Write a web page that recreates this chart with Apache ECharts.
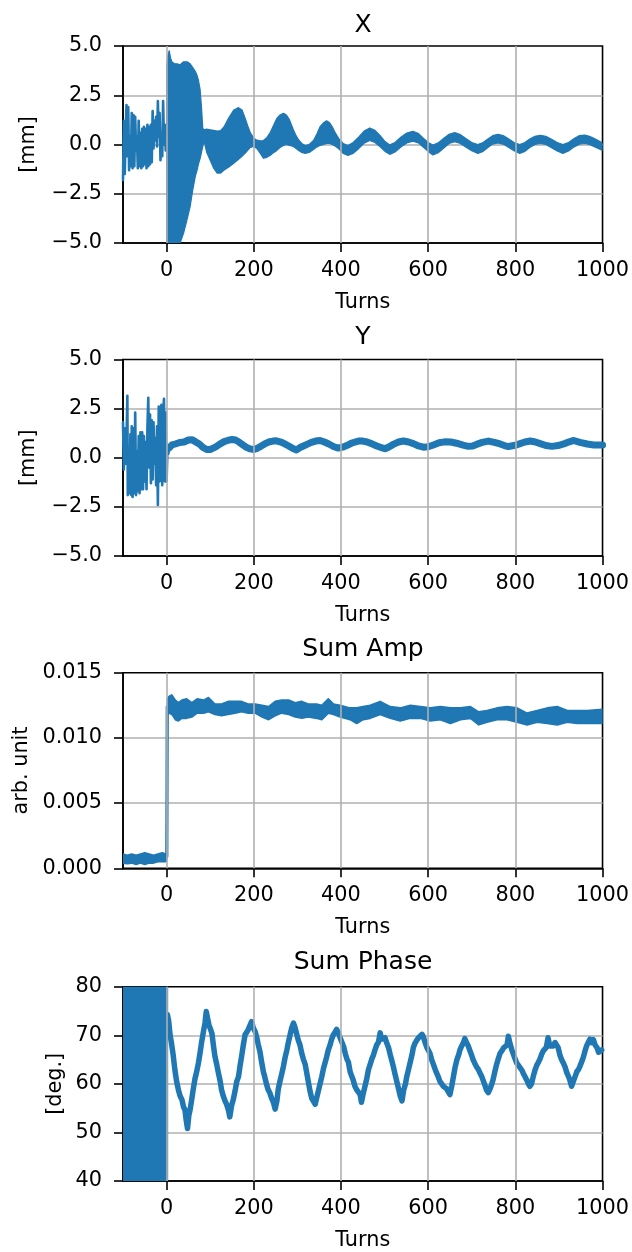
<!DOCTYPE html>
<html><head><meta charset="utf-8">
<script src="https://cdn.jsdelivr.net/npm/echarts@6/dist/echarts.min.js"></script>
<style>html,body{margin:0;padding:0;background:#fff}#c{width:632px;height:1252px}</style>
</head><body><div id="c"></div>
<script>
// ---- data ----
const turnTicks = [0, 200, 400, 600, 800, 1000];
const panelTitles = ['X', 'Y', 'Sum Amp', 'Sum Phase'];
const yNames = ['[mm]', '[mm]', 'arb. unit', '[deg.]'];

// X: pre-trigger trace [turn, mm]
const xPre = [[-100,-1.8],[-98,1.2],[-96,-1.5],[-94,0.5],[-92,2.0],[-90,-0.6],[-88,1.9],[-86,-1.3],[-84,0.4],[-82,-1.1],
[-80,1.6],[-78,-1.2],[-76,1.5],[-74,-1.1],[-72,1.4],[-70,-0.3],[-68,0.4],[-66,-1.2],[-64,1.2],[-62,-1.1],
[-60,0.6],[-58,-1.2],[-56,0.8],[-54,-1.1],[-52,0.9],[-50,-1.0],[-48,0.8],[-46,-1.2],[-44,1.0],[-42,-1.1],
[-40,0.9],[-38,-1.0],[-36,1.0],[-34,-0.9],[-32,1.7],[-30,-0.2],[-28,1.2],[-26,0.2],[-24,1.4],[-22,-0.1],
[-20,2.2],[-18,0.4],[-16,1.6],[-14,-0.8],[-12,0.6],[-10,-0.6],[-8,2.2],[-6,0.0],[-4,1.0],[-2,-0.3],[0,0.5]];
// X: envelope of the dense trace after injection [turn, low, high]
const xBand = [[0,-5.5,3.95],[3,-5.5,4.5],[6,-5.5,4.76],[9,-5.5,4.4],[12,-5.5,4.2],[18,-5.5,4.1],[24,-5.5,4.1],[31,-5.0,4.05],[39,-4.5,4.2],[47,-3.8,4.2],
[54,-3.15,4.1],[60,-2.3,3.9],[66,-1.6,3.7],[70,-1.3,3.5],[73,-1.0,3.27],[77,-0.7,2.77],[80,-0.4,1.9],[83,-0.1,0.82],[86,0.2,0.75],[92,-0.4,0.78],
[100,-0.8,0.75],[108,-1.2,0.72],[116,-1.45,0.68],[124,-1.45,0.7],[132,-1.3,0.9],[142,-1.15,1.33],[154,-0.95,1.75],[165,-0.75,1.87],[173,-0.6,1.75],[180,-0.45,1.35],
[186,-0.3,0.95],[192,-0.15,0.6],[200,-0.1,0.32],[207,-0.2,0.22],[215,-0.45,0.18],[222,-0.7,0.2],[230,-0.65,0.35],[238,-0.55,0.62],[246,-0.4,1.0],[253,-0.3,1.33],
[260,-0.15,1.5],[268,-0.05,1.58],[275,0.0,1.5],[282,-0.05,1.25],[291,-0.1,0.74],[297,-0.2,0.45],[303,-0.3,0.23],[310,-0.4,0.05],[318,-0.45,-0.05],[327,-0.4,0.0],
[337,-0.25,0.2],[345,-0.12,0.55],[352,-0.05,0.9],[360,0.0,1.1],[367,0.05,1.2],[374,0.05,1.1],[380,0.0,0.9],[388,-0.1,0.55],[395,-0.22,0.3],[405,-0.45,0.05],
[416,-0.55,-0.05],[428,-0.45,0.1],[441,-0.2,0.38],[454,0.08,0.7],[466,0.2,0.84],[478,0.1,0.72],[490,-0.12,0.45],[501,-0.35,0.15],[512,-0.5,-0.02],[524,-0.38,0.1],
[538,-0.12,0.38],[551,0.08,0.58],[565,0.17,0.67],[578,0.08,0.55],[590,-0.15,0.3],[600,-0.35,0.1],[611,-0.53,-0.03],[623,-0.42,0.08],[636,-0.18,0.32],[648,0.05,0.52],
[661,0.14,0.6],[674,0.05,0.5],[688,-0.15,0.28],[700,-0.32,0.1],[714,-0.45,0.0],[726,-0.35,0.1],[737,-0.15,0.28],[748,0.02,0.45],[760,0.08,0.52],[772,0.02,0.45],
[785,-0.15,0.28],[797,-0.32,0.1],[810,-0.45,0.0],[822,-0.35,0.1],[833,-0.15,0.28],[845,0.0,0.42],[857,0.05,0.47],[870,0.0,0.42],[882,-0.15,0.28],[896,-0.33,0.1],
[909,-0.45,0.0],[922,-0.33,0.1],[935,-0.12,0.3],[947,0.02,0.45],[959,0.05,0.48],[970,0.0,0.42],[980,-0.1,0.32],[990,-0.2,0.2],[1000,-0.3,0.08]];

// Y: pre-trigger trace and trace after injection [turn, mm]
const yPre = [[-100,1.8],[-98,-0.6],[-96,1.5],[-94,-0.3],[-92,0.8],[-90,3.15],[-89,-1.9],[-87,0.5],[-85,-1.8],[-83,1.2],[-81,-1.9],
[-80,1.6],[-78,-2.0],[-76,1.5],[-74,-1.8],[-72,2.3],[-70,-1.9],[-68,0.3],[-66,-1.7],[-64,1.1],[-62,-1.8],
[-60,1.3],[-58,-1.6],[-56,1.3],[-54,-1.6],[-52,1.1],[-50,-1.2],[-48,0.8],[-46,-1.6],[-44,1.5],[-42,3.05],
[-40,-0.5],[-38,2.2],[-36,-1.3],[-34,1.9],[-32,-1.1],[-30,1.8],[-28,-0.3],[-26,1.0],[-24,-1.4],[-22,1.6],
[-20,-2.4],[-18,2.6],[-16,-1.2],[-14,1.0],[-12,2.7],[-10,-1.4],[-8,2.2],[-6,3.0],[-4,-1.2],[-2,2.3],[0,-1.2],[2,0.5],[4,0.2],[6,0.5]];
const yPost = [[6,0.5],[12,0.65],[20,0.7],[30,0.78],[40,0.8],[50,0.9],[58,0.92],[66,0.82],[75,0.7],[84,0.52],[92,0.42],[100,0.42],
[108,0.5],[116,0.6],[124,0.72],[132,0.82],[140,0.88],[150,0.93],[158,0.9],[166,0.8],[175,0.66],[184,0.52],[192,0.45],[200,0.42],
[208,0.48],[216,0.58],[225,0.7],[234,0.8],[244,0.85],[252,0.86],[262,0.8],[270,0.72],[280,0.6],[290,0.47],[298,0.4],[306,0.52],
[314,0.6],[322,0.68],[332,0.78],[342,0.85],[352,0.88],[362,0.8],[372,0.7],[384,0.56],[394,0.49],[404,0.54],[413,0.62],[425,0.75],
[440,0.85],[450,0.85],[460,0.8],[470,0.72],[482,0.6],[492,0.52],[501,0.46],[510,0.55],[520,0.68],[532,0.8],[543,0.85],[555,0.8],
[566,0.72],[578,0.6],[589,0.54],[600,0.56],[612,0.65],[625,0.76],[638,0.81],[652,0.8],[665,0.74],[680,0.64],[692,0.58],[702,0.6],
[711,0.68],[724,0.78],[738,0.85],[752,0.78],[765,0.7],[775,0.62],[784,0.57],[797,0.62],[811,0.72],[822,0.8],[834,0.85],[846,0.8],
[857,0.72],[870,0.62],[884,0.58],[898,0.62],[911,0.7],[922,0.8],[934,0.88],[948,0.78],[965,0.7],[980,0.65],[1000,0.65]];

// Sum Amp: envelope [turn, low, high] and the step at injection [turn, value]
const ampBand = [[-100,0.0004,0.0011],[-90,0.00035,0.0010],[-80,0.0004,0.0011],[-70,0.0003,0.0010],[-60,0.0004,0.0011],[-50,0.0003,0.0012],
[-40,0.0004,0.0011],[-30,0.0004,0.0010],[-20,0.0005,0.0011],[-10,0.0005,0.0012],[-2,0.0005,0.0011],[0,0.0006,0.0012],
[2,0.0118,0.0130],[6,0.0119,0.0132],[12,0.0118,0.0133],[20,0.0114,0.0129],[27,0.0113,0.0127],[35,0.0115,0.0129],[46,0.0115,0.0130],[58,0.0116,0.0127],
[70,0.0119,0.0130],[85,0.0119,0.0129],[96,0.0120,0.0131],[111,0.0118,0.0126],[126,0.0117,0.0126],[141,0.0118,0.0128],[157,0.0119,0.0128],[172,0.0120,0.0128],[187,0.0119,0.0126],[203,0.0119,0.0126],
[219,0.0116,0.0125],[234,0.0114,0.0124],[249,0.0117,0.0128],[264,0.0119,0.0129],[280,0.0118,0.0129],[295,0.0116,0.0127],[310,0.0115,0.0128],[325,0.0116,0.0126],[344,0.0115,0.0126],[356,0.0114,0.0125],
[371,0.0119,0.0130],[383,0.0118,0.0126],[398,0.0116,0.0125],[421,0.0114,0.0123],[436,0.0111,0.0123],[451,0.0114,0.0124],[467,0.0115,0.0125],[490,0.0118,0.0128],[513,0.0115,0.0124],[536,0.0113,0.0123],
[559,0.0115,0.0125],[582,0.0115,0.0124],[605,0.0113,0.0123],[628,0.0114,0.0124],[651,0.0111,0.0123],[674,0.0114,0.0123],[697,0.0115,0.0124],[716,0.0110,0.0120],[735,0.0112,0.0121],[758,0.0114,0.0123],
[781,0.0114,0.0124],[804,0.0112,0.0123],[827,0.0110,0.0119],[850,0.0112,0.0121],[873,0.0111,0.0123],[896,0.0110,0.0124],[919,0.0112,0.0121],[942,0.0111,0.0121],[965,0.0111,0.0121],[1000,0.0111,0.0122]];
const ampStep = [[0.5,0.0009],[1.5,0.0124]];

// Sum Phase: pre-trigger fills the whole range; trace after injection [turn, deg]
const phasePreBand = [[-100,30,90],[2.5,30,90]];
const phasePost = [[2,74.2],[5,72.8],[8,70.0],[11,68.5],[15,66],[19,62.9],[23,60.5],[27,58.8],[31,57.5],[35,56.8],[39,55.2],[42,54.7],[45,52.5],[48,50.8],[51,53.5],[54,54.7],
[58,57],[61,58.8],[65,61],[69,62.5],[73,64.3],[77,66.5],[80,68.4],[84,70.5],[88,72.5],[91,74.9],[94,73.5],[97,72.2],[100,72.5],[104,70.4],[108,67.5],[111,65.6],
[115,64],[119,62.2],[123,60.5],[126,58.8],[130,57.5],[134,56.5],[138,55.7],[142,54.5],[145,53.2],[149,55.5],[153,56.8],[157,58.5],[161,60.5],[165,61.5],[169,64],[172,65.6],
[176,68],[180,70.1],[184,70.5],[187,71.1],[191,71.5],[195,72.8],[199,71.5],[203,70.8],[207,69.5],[210,68.2],[214,66.7],[218,64.5],[222,62.5],[225,61.5],[229,60],[233,58.8],
[237,58.1],[241,57],[245,56.2],[249,54.8],[253,56.5],[256,58.8],[260,60.5],[264,62],[268,63.6],[272,65.5],[276,67],[279,68.4],[283,70],[287,71.5],[291,72.5],[294,71.8],
[298,70.4],[302,69],[306,68],[310,66.3],[314,65],[318,64],[321,62.5],[325,60.5],[329,58.5],[333,57],[337,56.4],[341,55.8],[344,57],[348,58.5],[352,60],[356,61.5],
[360,63.2],[364,64.5],[367,65.5],[371,67],[375,68],[378,69],[382,70],[386,70.6],[390,71.2],[394,70.5],[398,69.5],[401,69.2],[406,67.7],[410,66.2],[414,65],[417,64.5],
[421,62.5],[425,61.5],[428,60.8],[432,59.5],[436,58.8],[440,58.5],[444,57.8],[447,56.2],[451,58],[455,59.5],[459,61],[463,62.9],[467,64],[471,65.2],[474,65.8],[478,67],
[482,68],[486,68.6],[490,70.5],[493,69.2],[497,68.8],[501,69.5],[505,68.4],[509,67.5],[513,66],[516,65],[520,63.6],[524,62],[528,60.5],[532,59],[536,57.5],[540,56.5],
[544,58.8],[548,60],[551,61.5],[555,63],[559,64.5],[563,66],[566,67.5],[570,68.4],[574,69],[578,69.5],[582,69.8],[586,70.2],[589,69.7],[593,68.5],[597,67.5],[600,67],
[604,66.3],[608,65],[612,64],[616,63],[619,62.3],[623,61.5],[627,60.5],[631,60],[635,59.5],[638,59.2],[642,59],[646,58.4],[650,57.8],[654,59.5],[658,61.5],[662,63.5],
[666,65],[670,66],[673,67],[677,67.8],[681,68.5],[684,69.3],[688,68.5],[692,67.8],[696,66.8],[700,65.8],[703,65],[707,64.2],[711,63.5],[715,63],[719,62.2],[723,61.5],
[727,60.5],[731,59.5],[734,58.7],[738,58.2],[742,59],[746,60],[749,60.9],[753,62.5],[757,64],[761,65.2],[765,66.3],[769,66.8],[773,67.4],[777,67.8],[781,68],[784,69.8],
[788,68.2],[792,67],[796,66],[800,65],[803,64.3],[807,63.8],[811,63.5],[815,62.8],[818,62.2],[822,61.5],[826,60.8],[830,60],[833,59.5],[837,60],[841,61.5],[845,62.8],
[849,63.8],[852,64.3],[856,65],[860,66],[864,66.8],[868,67],[871,67.5],[875,69.5],[879,67.8],[883,68],[887,67.8],[891,68.5],[894,68.4],[898,67.5],[902,66],[906,65],
[910,64.3],[914,63.5],[918,62.3],[922,61.5],[925,60.8],[929,59.5],[933,60.5],[937,61.5],[941,62.5],[945,63],[948,63.6],[952,64.5],[956,65.5],[960,66.8],[963,67.7],[967,68.5],
[971,69.2],[975,68.5],[979,69.1],[983,68],[987,67.5],[991,66.5],[994,66.3],[998,67]];

// ---- chart ----
const FONT = 'DejaVu Sans';
const C = '#1f77b4';
const FS = 20.8;
const gridTops = [46, 359.5, 672.7, 986.7];
const gridHeights = [197, 196.5, 195.6, 195];
const titleTops = [13, 325, 636.7, 950];
const yCfg = [
  {min:-5, max:5, interval:2.5, fmt:v=>v.toFixed(1).replace('-', '\u2212'), gap:84},
  {min:-5, max:5, interval:2.5, fmt:v=>v.toFixed(1).replace('-', '\u2212'), gap:84},
  {min:0, max:0.015, interval:0.005, fmt:v=>v.toFixed(3), gap:91},
  {min:40, max:80, interval:10, fmt:v=>String(Math.round(v)), gap:57}
];
const txt = {fontFamily: FONT, fontSize: FS, color: '#000'};

const grids = [], xAxes = [], yAxes = [], series = [], graphics = [];
for (let i = 0; i < 4; i++) {
  grids.push({left:123, width:480, top:gridTops[i], height:gridHeights[i], show:true, borderColor:'#000', borderWidth:1.6, backgroundColor:'rgba(0,0,0,0)'});
  xAxes.push({gridIndex:i, type:'value', min:-100, max:1000,
    name:'Turns', nameLocation:'middle', nameGap:49, nameMoveOverlap:false, nameTextStyle:txt,
    axisLine:{show:true, onZero:false, lineStyle:{color:'#000', width:1.6}},
    axisTick:{show:true, length:9, customValues:turnTicks, lineStyle:{color:'#000', width:1.6}},
    axisLabel:Object.assign({margin:17, customValues:turnTicks, formatter:v=>String(v)}, txt),
    splitLine:{show:false}});
  const c = yCfg[i];
  yAxes.push({gridIndex:i, type:'value', min:c.min, max:c.max, interval:c.interval,
    name:yNames[i], nameLocation:'middle', nameGap:c.gap, nameMoveOverlap:false, nameTextStyle:txt,
    axisLine:{show:true, onZero:false, lineStyle:{color:'#000', width:1.6}},
    axisTick:{show:true, length:9, lineStyle:{color:'#000', width:1.6}},
    axisLabel:Object.assign({margin:21, formatter:c.fmt}, txt),
    splitLine:{show:true, showMinLine:false, showMaxLine:false, lineStyle:{color:'#b0b0b0', width:1.6}}});
  // vertical grid lines at the turn ticks (below data)
  series.push({type:'line', xAxisIndex:i, yAxisIndex:i, data:[], z:1, silent:true,
    markLine:{silent:true, symbol:['none','none'], label:{show:false}, animation:false,
      lineStyle:{color:'#b0b0b0', width:1.6, type:'solid'},
      data:turnTicks.filter(v => v < 1000).map(v => ({xAxis:v}))}});
  graphics.push({type:'text', x:363, y:titleTops[i], silent:true,
    style:{text:panelTitles[i], fontFamily:FONT, fontSize:25, fill:'#000', align:'center', verticalAlign:'top', textAlign:'center', textVerticalAlign:'top'}});
}

function lineSeries(i, data, w) {
  return {type:'line', xAxisIndex:i, yAxisIndex:i, data:data, symbol:'none', z:3, silent:true,
    lineStyle:{color:C, width:w, join:'round', cap:'round'}};
}
// filled envelope: polygon through the high values then back through the low values
function bandSeries(i, band, sw) {
  return {type:'custom', coordinateSystem:'cartesian2d', xAxisIndex:i, yAxisIndex:i, data:band, z:3, silent:true,
    encode:{x:0, y:[1, 2]},
    renderItem:function (params, api) {
      if (params.dataIndex !== 0) return null;
      const up = band.map(d => api.coord([d[0], d[2]]));
      const dn = band.slice().reverse().map(d => api.coord([d[0], d[1]]));
      const cs = params.coordSys;
      return {type:'polygon', shape:{points:up.concat(dn)},
        style:{fill:C, stroke:C, lineWidth:sw, lineJoin:'round'},
        clipPath:{type:'rect', shape:{x:cs.x, y:cs.y, width:cs.width, height:cs.height}}};
    }};
}

series.push(lineSeries(0, xPre, 2.6));
series.push(bandSeries(0, xBand, 1.2));
series.push(lineSeries(1, yPre, 2.6));
series.push(lineSeries(1, yPost, 7));
series.push(bandSeries(2, ampBand, 1.6));
series.push(lineSeries(2, ampStep, 3.2));
series.push(bandSeries(3, phasePreBand, 1));
series.push(lineSeries(3, phasePost, 5.5));

const chart = echarts.init(document.getElementById('c'), null, {renderer:'canvas'});
chart.setOption({animation:false, backgroundColor:'#fff', grid:grids, xAxis:xAxes, yAxis:yAxes, series:series, graphic:graphics});
</script>
</body></html>
